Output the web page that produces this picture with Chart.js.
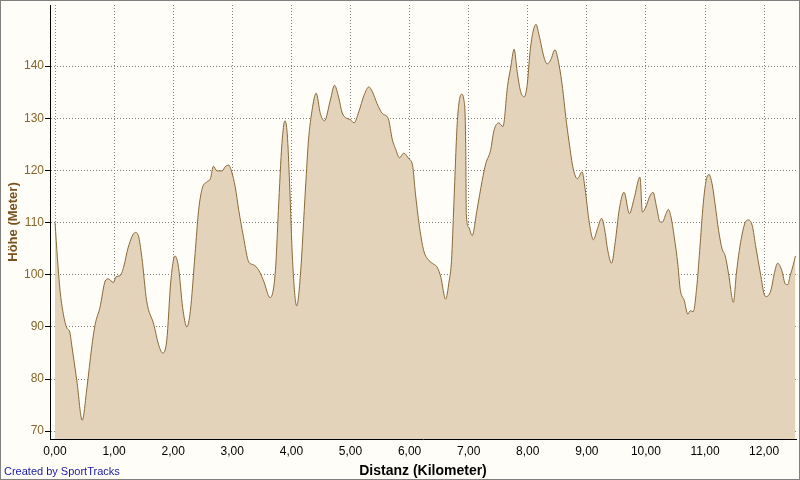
<!DOCTYPE html>
<html>
<head>
<meta charset="utf-8">
<script src="https://cdn.jsdelivr.net/npm/chart.js@4/dist/chart.umd.min.js"></script>
<style>
  html, body { margin: 0; padding: 0; background: #fffdf7; }
  #wrap { width: 800px; height: 480px; position: relative; }
</style>
</head>
<body>
<div id="wrap"><canvas id="hoehenprofil" width="800" height="480"></canvas></div>
<script>
// Höhenprofil, Werte
const distanzKm = [
  0.00, 0.04, 0.085, 0.14, 0.20, 0.25, 0.28, 0.37, 0.46, 0.54, 0.62, 0.68, 0.76, 0.85, 0.90, 0.99,
  1.03, 1.10, 1.16, 1.24, 1.36, 1.41, 1.47, 1.55, 1.67, 1.75, 1.82, 1.89, 1.96,
  2.03, 2.09, 2.16, 2.23, 2.29, 2.37, 2.43, 2.49, 2.57, 2.63, 2.68, 2.74, 2.83, 2.88, 2.94, 2.99,
  3.05, 3.11, 3.19, 3.28, 3.36, 3.45, 3.53, 3.64, 3.73, 3.78, 3.84, 3.89, 3.93, 3.97,
  4.02, 4.09, 4.15, 4.24, 4.29, 4.35, 4.42, 4.49, 4.56, 4.66, 4.73, 4.80, 4.86, 4.92,
  5.00, 5.06, 5.14, 5.23, 5.31, 5.37, 5.45, 5.54, 5.64, 5.71, 5.76, 5.83, 5.90, 5.99,
  6.05, 6.10, 6.16, 6.24, 6.33, 6.41, 6.47, 6.53, 6.61, 6.67, 6.71, 6.75, 6.81, 6.88, 6.92, 6.95, 6.96,
  7.00, 7.06, 7.14, 7.23, 7.29, 7.37, 7.43, 7.51, 7.58, 7.66, 7.71, 7.77, 7.82, 7.88, 7.94, 7.99,
  8.04, 8.09, 8.14, 8.19, 8.28, 8.33, 8.39, 8.46, 8.53, 8.59, 8.64, 8.70, 8.77, 8.84, 8.92, 8.97,
  9.04, 9.11, 9.18, 9.25, 9.31, 9.35, 9.42, 9.48, 9.55, 9.63, 9.72, 9.80, 9.90, 9.94,
  10.00, 10.06, 10.12, 10.18, 10.24, 10.28, 10.34, 10.38, 10.42, 10.48, 10.54, 10.58, 10.65, 10.71, 10.75, 10.80, 10.86, 10.91, 10.97,
  11.02, 11.07, 11.12, 11.17, 11.23, 11.29, 11.34, 11.40, 11.48, 11.53, 11.58, 11.67, 11.73, 11.80, 11.86, 11.94,
  12.00, 12.04, 12.12, 12.17, 12.23, 12.30, 12.36, 12.40, 12.44, 12.49, 12.53
];
const hoeheMeter = [
  110, 103.3, 97, 92.5, 89.8, 89, 86.7, 79.6, 72.1, 78.3, 86, 90.5, 93.7, 98.8, 99.2, 98.5,
  99.6, 99.8, 101.4, 105.3, 108.1, 107.5, 103.3, 95, 90.5, 86.7, 85, 87.3, 98.8,
  103.6, 101.4, 93.7, 90.0, 93, 104, 112.3, 116.5, 117.8, 118.4, 120.8, 119.9, 119.9, 120.7, 121, 119.7,
  116.8, 112.3, 107.2, 102.4, 101.9, 100.8, 98.8, 95.6, 100.8, 112.3, 125.1, 129.5, 127, 117.4,
  102.7, 94, 99.5, 116.8, 125.8, 131.5, 134.8, 130.9, 129.5, 133.5, 136.3, 134, 131, 130.1,
  129.7, 129.1, 131.2, 134.4, 136, 135.1, 132.8, 130.9, 129.9, 125.8, 124.2, 122.4, 123.3, 122.2,
  121, 115.5, 109.8, 104.6, 102.7, 102, 101.4, 99.5, 95.3, 98.8, 102.7, 113.6, 129.6, 134.6, 133.5, 125, 111.7,
  109.1, 107.5, 112.3, 118.1, 121.3, 123.8, 127.7, 129.1, 128.4, 136.3, 139.6, 143.2, 139, 135.1, 134.1, 136.3,
  142.8, 146.6, 148, 146, 141.5, 140.4, 141.2, 143.1, 140.2, 135.7, 130.6, 125.4, 120.3, 118.4, 119.7, 116.5,
  110.1, 106.7, 108.8, 110.8, 108.1, 104.9, 102.2, 106.2, 112.6, 115.8, 111.7, 114.6, 118.7, 112,
  113, 114.9, 115.8, 113, 110.1, 110.1, 111.7, 112.5, 111.3, 107.2, 102, 97.2, 95, 92.4, 93.1, 92.9, 97.6, 104.6, 113.6,
  118.1, 119.2, 117.4, 113.6, 108.5, 104.9, 103.7, 100.1, 94.7, 100.1, 104.6, 109.7, 110.5, 109.4, 105.3, 100.1,
  96.3, 95.8, 97.2, 100.1, 102.2, 100.8, 98.2, 98.1, 99.8, 101.7, 103.6
];
const xTicks = [0, 1, 2, 3, 4, 5, 6, 7, 8, 9, 10, 11, 12];
const yTicks = [70, 80, 90, 100, 110, 120, 130, 140];

const rahmenPlugin = {
  id: 'rahmen',
  beforeDraw(chart) {
    const ctx = chart.ctx;
    ctx.save();
    ctx.fillStyle = '#fffdf7';
    ctx.fillRect(0, 0, chart.width, chart.height);
    ctx.restore();
  },
  afterDraw(chart) {
    const ctx = chart.ctx;
    ctx.save();
    ctx.strokeStyle = '#808080';
    ctx.lineWidth = 1;
    ctx.strokeRect(0.5, 0.5, chart.width - 1, chart.height - 1);
    ctx.fillStyle = '#1a1aa6';
    ctx.font = '11px "Liberation Sans", Arial, sans-serif';
    ctx.textBaseline = 'middle';
    ctx.fillText('Created by SportTracks', 4, 472);
    ctx.restore();
  }
};

new Chart(document.getElementById('hoehenprofil'), {
  type: 'line',
  data: {
    datasets: [{
      data: distanzKm.map((d, i) => ({ x: d, y: hoeheMeter[i] })),
      borderColor: '#8a6a3a',
      borderWidth: 1,
      backgroundColor: '#e3d3bb',
      fill: 'start',
      pointRadius: 0,
      cubicInterpolationMode: 'monotone'
    }]
  },
  options: {
    responsive: false,
    animation: false,
    devicePixelRatio: 1,
    layout: { padding: { left: 0, right: 4, top: 5, bottom: 0 } },
    plugins: {
      legend: { display: false },
      tooltip: { enabled: false }
    },
    scales: {
      x: {
        type: 'linear',
        min: -0.085,
        max: 12.54,
        afterBuildTicks: (scale) => { scale.ticks = xTicks.map(v => ({ value: v })); },
        afterFit: (scale) => { scale.height = 41; },
        ticks: {
          color: '#000',
          padding: 3,
          maxRotation: 0,
          font: { family: '"Liberation Sans", Arial, sans-serif', size: 12 },
          callback: (v) => v.toFixed(2).replace('.', ',')
        },
        grid: {
          color: '#808080',
          borderDash: [1, 2],
          tickLength: 2,
          tickColor: 'rgba(0,0,0,0)'
        },
        border: { color: '#000', width: 1, dash: [1, 2] },
        title: {
          display: true,
          text: 'Distanz (Kilometer)',
          color: '#000',
          padding: { top: 0, bottom: 0 },
          font: { family: '"Liberation Sans", Arial, sans-serif', size: 14, weight: 'bold' }
        }
      },
      y: {
        min: 68.5,
        max: 151.7,
        afterBuildTicks: (scale) => { scale.ticks = yTicks.map(v => ({ value: v })); },
        afterFit: (scale) => { scale.width = 50; scale.paddingTop = 0; scale.paddingBottom = 0; },
        ticks: {
          color: '#85652a',
          padding: 1,
          font: { family: '"Liberation Sans", Arial, sans-serif', size: 12 }
        },
        grid: {
          color: '#808080',
          borderDash: [1, 2],
          tickLength: 5,
          tickColor: '#000',
          tickBorderDash: []
        },
        border: { color: '#000', width: 1, dash: [1, 2] },
        title: {
          display: true,
          text: 'Höhe (Meter)',
          color: '#7a5220',
          padding: { top: 6, bottom: 0 },
          font: { family: '"Liberation Sans", Arial, sans-serif', size: 13, weight: 'bold' }
        }
      }
    }
  },
  plugins: [rahmenPlugin]
});
</script>
</body>
</html>
